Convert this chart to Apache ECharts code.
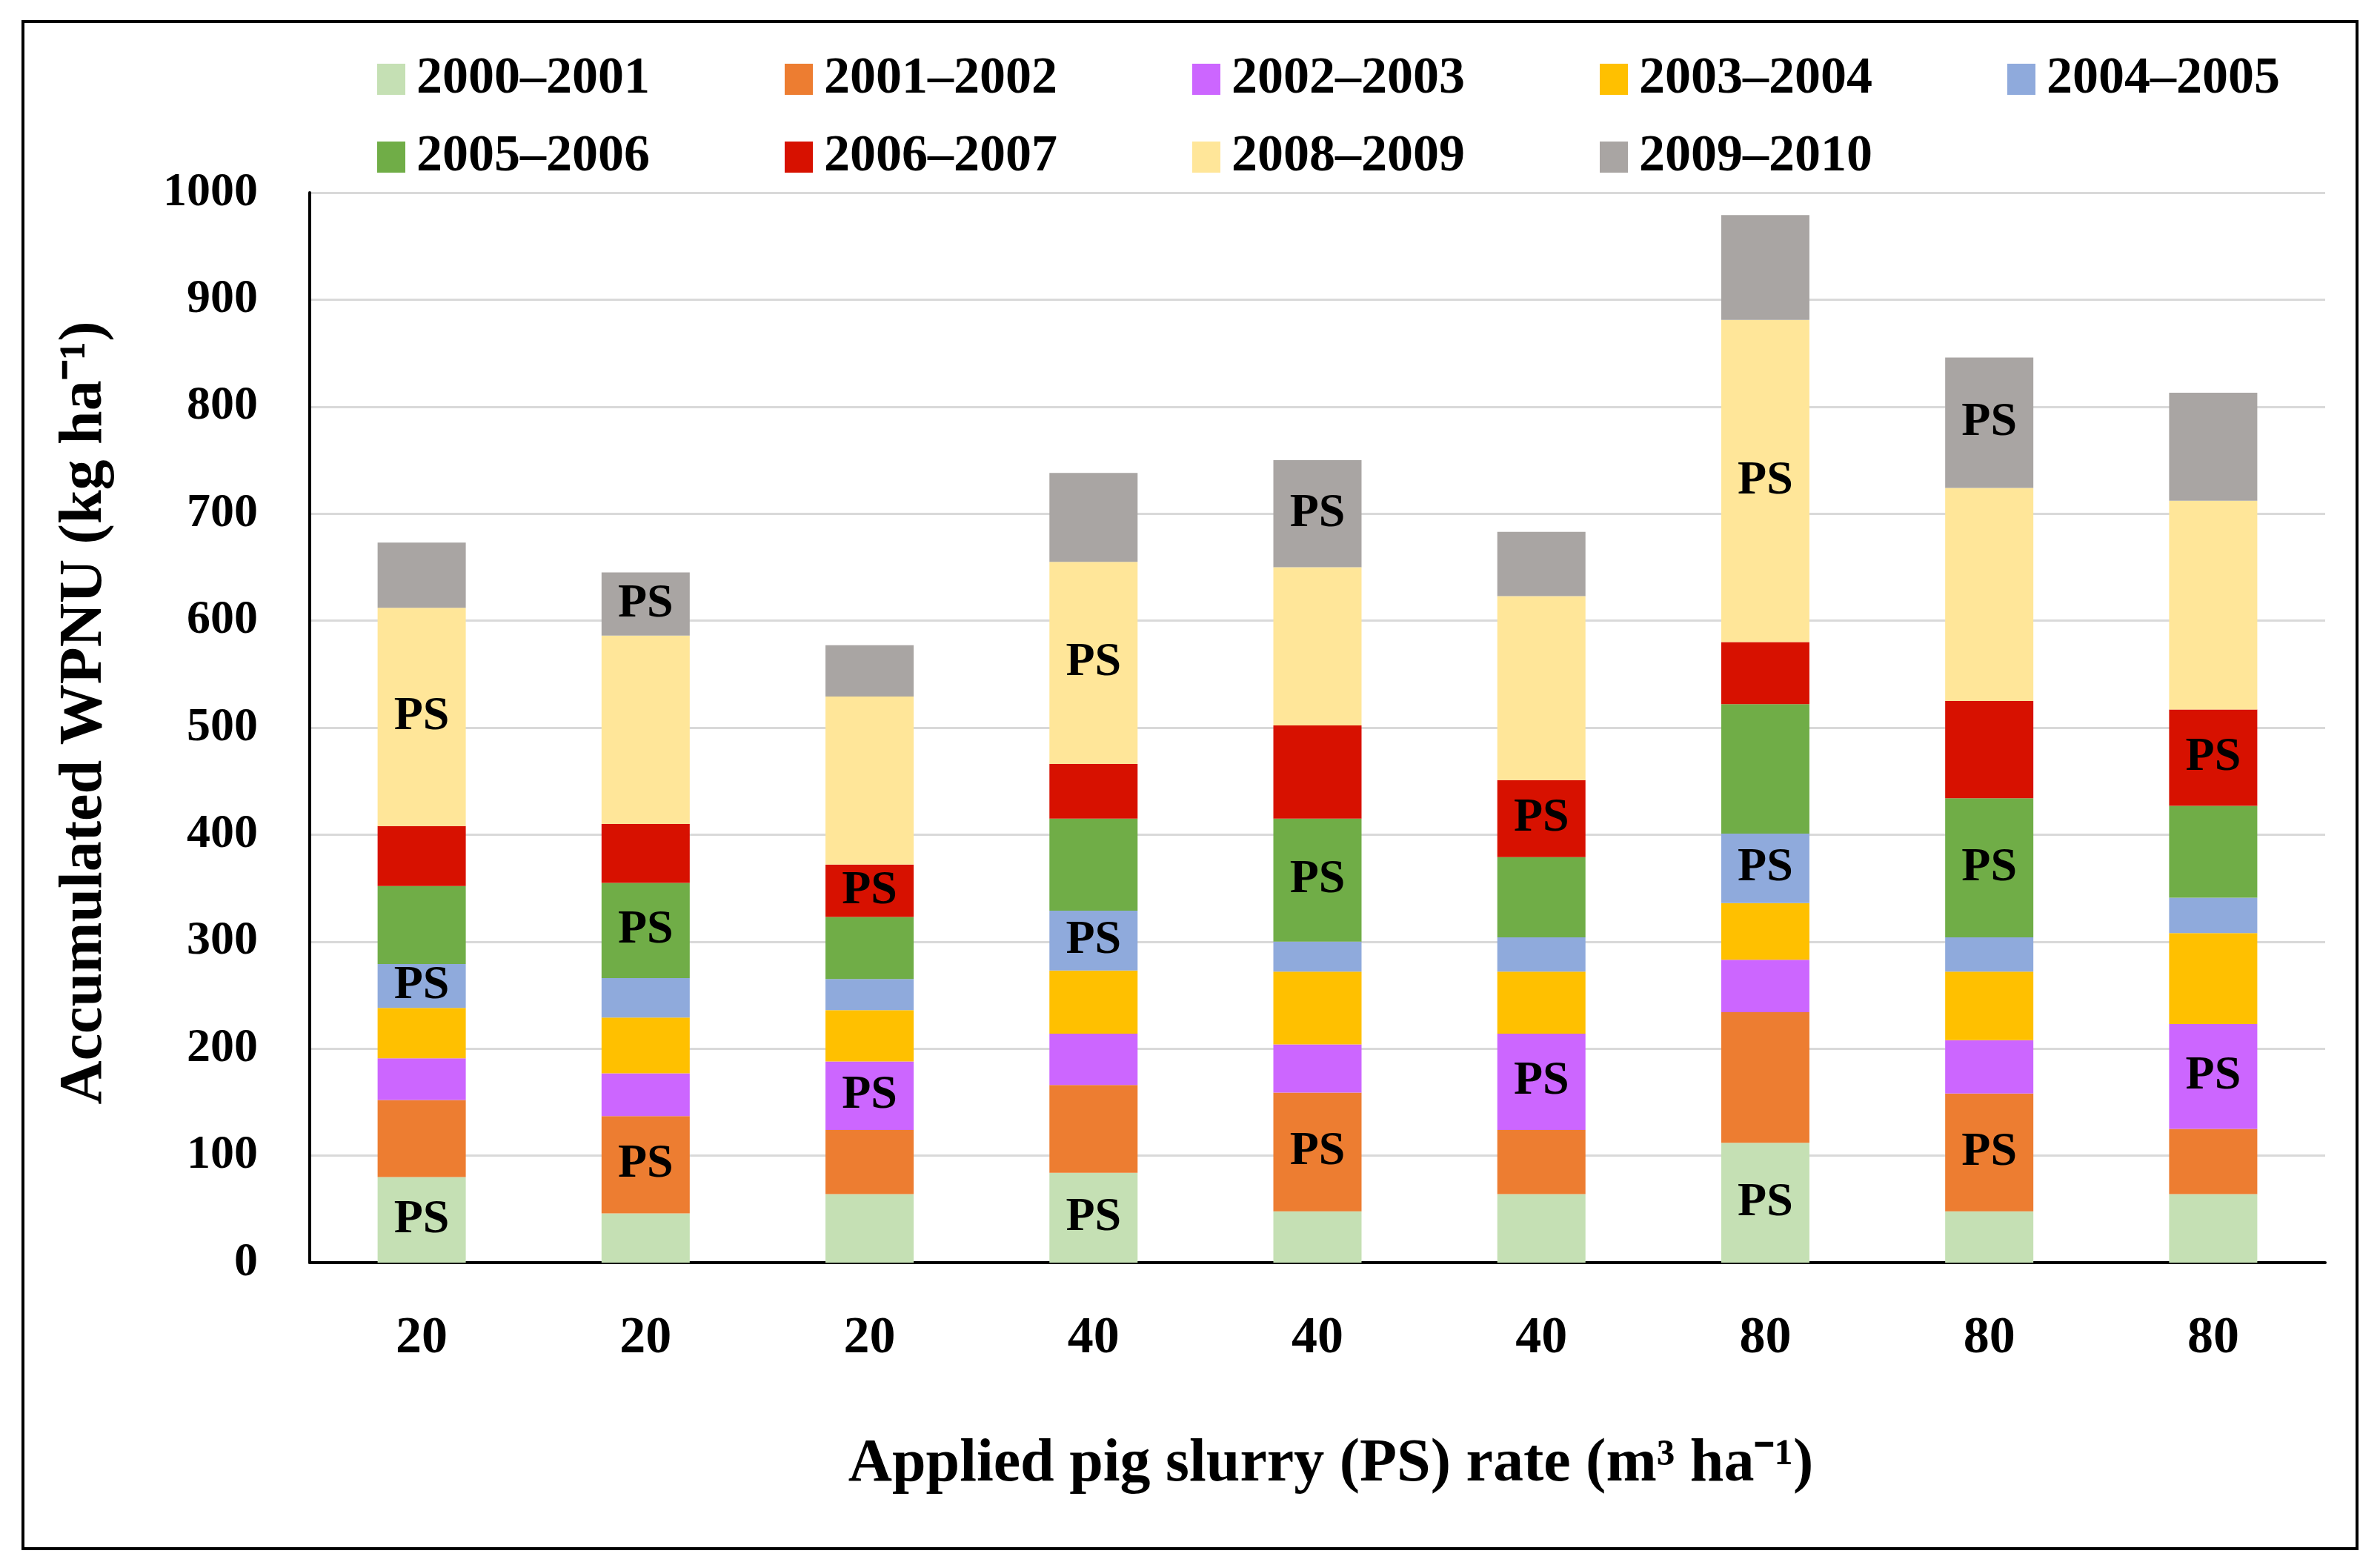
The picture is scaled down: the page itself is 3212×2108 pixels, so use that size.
<!DOCTYPE html>
<html>
<head>
<meta charset="utf-8">
<script src="https://cdn.jsdelivr.net/npm/echarts@6/dist/echarts.min.js"></script>
<style>
html,body{margin:0;padding:0;background:#fff;}
#chart{width:3212px;height:2108px;}
</style>
</head>
<body>
<div id="chart"></div>
<script>
// ---- data ----
const categories = ['20', '20', '20', '40', '40', '40', '80', '80', '80'];
const yTicks = [0, 100, 200, 300, 400, 500, 600, 700, 800, 900, 1000];
const seriesNames = ['2000–2001', '2001–2002', '2002–2003', '2003–2004', '2004–2005',
                     '2005–2006', '2006–2007', '2008–2009', '2009–2010'];
const v2000_2001 = [80, 46, 64, 84, 48, 64, 112, 48, 64];
const v2001_2002 = [72, 91, 60, 82, 111, 60, 122, 110, 61];
const v2002_2003 = [39, 40, 64, 48, 45, 90, 49, 50, 98];
const v2003_2004 = [47, 52, 48, 59, 68, 58, 53, 64, 85];
const v2004_2005 = [41, 37, 29, 56, 28, 32, 65, 32, 33];
const v2005_2006 = [73, 89, 58, 86, 115, 75, 121, 130, 86];
const v2006_2007 = [56, 55, 49, 51, 87, 72, 58, 91, 90];
const v2008_2009 = [204, 176, 157, 189, 148, 172, 301, 199, 195];
const v2009_2010 = [61, 59, 48, 83, 100, 60, 98, 122, 101];
// "PS" marks (1 = segment labelled PS)
const ps2000_2001 = [1, 0, 0, 1, 0, 0, 1, 0, 0];
const ps2001_2002 = [0, 1, 0, 0, 1, 0, 0, 1, 0];
const ps2002_2003 = [0, 0, 1, 0, 0, 1, 0, 0, 1];
const ps2003_2004 = [0, 0, 0, 0, 0, 0, 0, 0, 0];
const ps2004_2005 = [1, 0, 0, 1, 0, 0, 1, 0, 0];
const ps2005_2006 = [0, 1, 0, 0, 1, 0, 0, 1, 0];
const ps2006_2007 = [0, 0, 1, 0, 0, 1, 0, 0, 1];
const ps2008_2009 = [1, 0, 0, 1, 0, 0, 1, 0, 0];
const ps2009_2010 = [0, 1, 0, 0, 1, 0, 0, 1, 0];
const psLabel = 'PS';

const allValues = [v2000_2001, v2001_2002, v2002_2003, v2003_2004, v2004_2005,
                   v2005_2006, v2006_2007, v2008_2009, v2009_2010];
const allMarks = [ps2000_2001, ps2001_2002, ps2002_2003, ps2003_2004, ps2004_2005,
                  ps2005_2006, ps2006_2007, ps2008_2009, ps2009_2010];
const colors = ['#C5E0B4', '#ED7D31', '#CC66FF', '#FFC000', '#8FAADC',
                '#70AD47', '#D71100', '#FFE699', '#A9A5A3'];

const FONT = '"Liberation Serif", "Times New Roman", serif';

const series = seriesNames.map((name, s) => ({
  name: name,
  type: 'bar',
  stack: 'total',
  barWidth: 119,
  itemStyle: { color: colors[s] },
  label: {
    show: false,
    position: 'inside',
    formatter: psLabel,
    color: '#000',
    fontFamily: FONT,
    fontWeight: 'bold',
    fontSize: 64
  },
  data: allValues[s].map((v, i) => ({ value: v, label: { show: allMarks[s][i] === 1 } }))
}));

const legendCommon = {
  orient: 'horizontal',
  icon: 'rect',
  itemWidth: 38,
  itemHeight: 42,
  itemGap: 177,
  textStyle: {
    fontFamily: FONT, fontWeight: 'bold', fontSize: 70, color: '#000',
    width: 320, lineHeight: 70, padding: [0, 0, 0, 10]
  }
};

const chart = echarts.init(document.getElementById('chart'), null, { renderer: 'canvas' });
chart.setOption({
  backgroundColor: '#fff',
  animation: false,
  color: colors,
  graphic: [{
    type: 'rect',
    shape: { x: 31, y: 29, width: 3150, height: 2061 },
    style: { fill: 'none', stroke: '#000', lineWidth: 4 },
    z: 100
  }],
  legend: [
    Object.assign({}, legendCommon, { left: 504, top: 67, data: seriesNames.slice(0, 5) }),
    Object.assign({}, legendCommon, { left: 504, top: 172, data: seriesNames.slice(5) })
  ],
  grid: { left: 418, right: 74, top: 260, bottom: 404, containLabel: false },
  xAxis: {
    type: 'category',
    data: categories,
    name: 'Applied pig slurry (PS) rate (m³ ha⁻¹)',
    nameLocation: 'middle',
    nameGap: 232,
    nameTextStyle: { fontFamily: FONT, fontWeight: 'bold', fontSize: 82, color: '#000', lineHeight: 82, padding: [0, 0, 0, 36] },
    axisLine: { lineStyle: { color: '#000', width: 4 } },
    axisTick: { show: false },
    axisLabel: { margin: 68, fontFamily: FONT, fontWeight: 'bold', fontSize: 70, color: '#000', lineHeight: 70 }
  },
  yAxis: {
    type: 'value',
    min: yTicks[0],
    max: yTicks[yTicks.length - 1],
    interval: 100,
    name: 'Accumulated WPNU (kg ha⁻¹)',
    nameLocation: 'middle',
    nameGap: 262,
    nameRotate: 90,
    nameTextStyle: { fontFamily: FONT, fontWeight: 'bold', fontSize: 82, color: '#000', lineHeight: 82, padding: [0, 0, 0, 40] },
    axisLine: { show: true, lineStyle: { color: '#000', width: 4 } },
    axisTick: { show: false },
    axisLabel: { margin: 70, fontFamily: FONT, fontWeight: 'bold', fontSize: 64, color: '#000',
                 formatter: (v) => String(v) },
    splitLine: { lineStyle: { color: '#D9D9D9', width: 3 } }
  },
  series: series
});
</script>
</body>
</html>
